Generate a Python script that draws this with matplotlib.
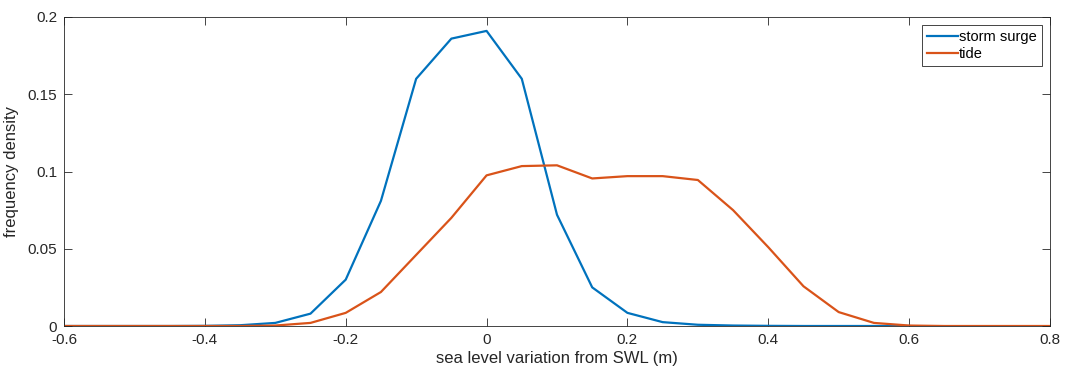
import numpy as np
import matplotlib
matplotlib.use("Agg")
import matplotlib.pyplot as plt

plt.rcParams['font.family'] = ['Liberation Sans', 'DejaVu Sans']

# sea level variation bins (m)
x_surge = [-0.6, -0.55, -0.5, -0.45, -0.4, -0.35, -0.3, -0.25, -0.2, -0.15, -0.1, -0.05,
           0.0, 0.05, 0.1, 0.15, 0.2, 0.25, 0.3, 0.35, 0.4, 0.45, 0.5, 0.55, 0.6]
surge = [0, 0, 0, 0, 0.0001, 0.0005, 0.002, 0.008, 0.030, 0.081, 0.160, 0.186,
         0.191, 0.160, 0.072, 0.025, 0.0085, 0.0025, 0.0008, 0.0003, 0.0001, 0, 0, 0, 0]

x_tide = [-0.6, -0.55, -0.5, -0.45, -0.4, -0.35, -0.3, -0.25, -0.2, -0.15, -0.1, -0.05,
          0.0, 0.05, 0.1, 0.15, 0.2, 0.25, 0.3, 0.35, 0.4, 0.45, 0.5, 0.55, 0.6,
          0.65, 0.7, 0.75, 0.8]
tide = [0, 0, 0, 0, 0, 0, 0.0003, 0.002, 0.0085, 0.022, 0.046, 0.070,
        0.0975, 0.1035, 0.104, 0.0955, 0.097, 0.097, 0.0945, 0.075, 0.051, 0.0257,
        0.009, 0.002, 0.0003, 0, 0, 0, 0]

xticks = [-0.6, -0.4, -0.2, 0, 0.2, 0.4, 0.6, 0.8]
xticklabels = ['-0.6', '-0.4', '-0.2', '0', '0.2', '0.4', '0.6', '0.8']
yticks = [0, 0.05, 0.1, 0.15, 0.2]
yticklabels = ['0', '0.05', '0.1', '0.15', '0.2']

blue = (0.0, 0.447, 0.741)
orange = (0.85, 0.325, 0.098)
axis_gray = (0.15, 0.15, 0.15)

fig = plt.figure(figsize=(10.66, 3.72), dpi=100)
ax = fig.add_axes([64 / 1066, 46 / 372, 986 / 1066, 309 / 372])

ax.plot(x_surge, surge, color=blue, lw=1.6, label='storm surge')
ax.plot(x_tide, tide, color=orange, lw=1.6, label='tide')

ax.set_xlim(-0.6, 0.8)
ax.set_ylim(0, 0.2)
ax.set_xticks(xticks)
ax.set_xticklabels(xticklabels)
ax.set_yticks(yticks)
ax.set_yticklabels(yticklabels)
ax.tick_params(direction='in', top=True, right=True, length=6, width=0.6,
               colors=axis_gray, labelsize=11, labelcolor=axis_gray, pad=5)
for s in ax.spines.values():
    s.set_color(axis_gray)
    s.set_linewidth(0.6)

ax.set_xlabel('sea level variation from SWL (m)', fontsize=12, color=axis_gray, labelpad=3)
ax.set_ylabel('frequency density', fontsize=12, color=axis_gray, labelpad=6)

leg = ax.legend(loc='upper right', bbox_to_anchor=(0.992, 0.974), fontsize=10.5,
                frameon=True, fancybox=False, edgecolor=axis_gray, framealpha=1,
                handlelength=2.1, handletextpad=0.1, borderpad=0.35, labelspacing=0.2,
                borderaxespad=0)
leg.get_frame().set_linewidth(0.6)

fig.savefig('out.png', dpi=100, facecolor='white')
